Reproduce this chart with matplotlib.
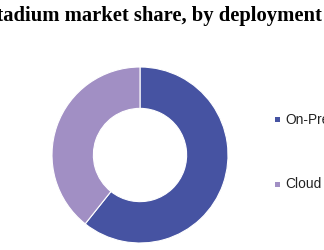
import matplotlib
matplotlib.use("Agg")
import matplotlib.pyplot as plt
from matplotlib.patches import Rectangle

title = "Smart Stadium market share, by deployment"
labels = ["On-Premise", "Cloud"]
shares = [60.7, 39.3]
colors = ["#4653A2", "#A18FC4"]

W, H = 324, 250
fig = plt.figure(figsize=(W/100, H/100), dpi=100)

cx, cy, r = 140, 155, 88
ax = fig.add_axes([(cx - r)/W, (H - cy - r)/H, 2*r/W, 2*r/H])
ax.pie(shares, colors=colors, startangle=90, counterclock=False, radius=1,
       wedgeprops=dict(width=0.47, edgecolor="white", linewidth=0.8))
ax.set_xlim(-1, 1)
ax.set_ylim(-1, 1)
ax.set_aspect("equal")
ax.axis("off")

fig.text(322/W, 1 - 16/H, title, ha="right", va="center", fontsize=14.9,
         fontweight="bold", family="Liberation Serif")

leg_y = [119.5, 184]
for lab, col, y in zip(labels, colors, leg_y):
    fig.add_artist(Rectangle(((275)/W, 1 - (y + 2.5)/H), 5/W, 5/H,
                             transform=fig.transFigure, facecolor=col, edgecolor="none"))
    fig.text(285/W, 1 - y/H, lab, ha="left", va="center", fontsize=9.9,
             family="Liberation Sans", color="#222222")

fig.savefig("out.png", dpi=100)
